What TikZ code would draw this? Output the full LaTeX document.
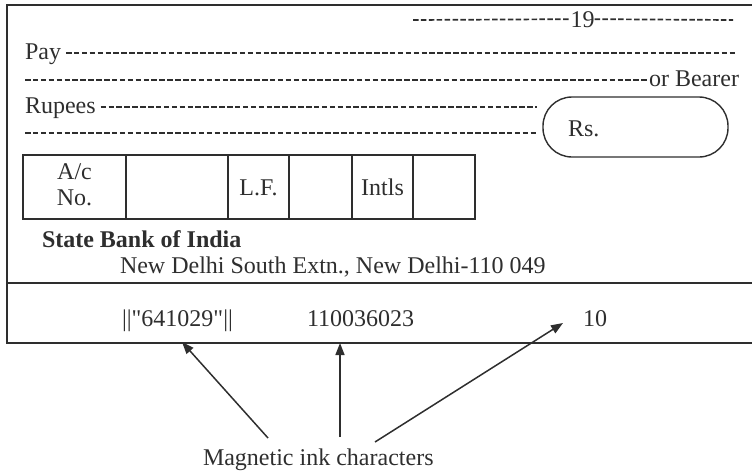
\documentclass[tikz,border=0pt]{standalone}
\usepackage{fontspec}
\setmainfont{Liberation Serif}
\newfontfamily\rawserif{Liberation Serif}
\usetikzlibrary{arrows.meta}
\definecolor{ink}{HTML}{2E2E2E}
\begin{document}
\begin{tikzpicture}[x=1pt,y=-1pt,
  txt/.style={inner sep=0pt,outer sep=0pt,text=ink,font=\fontsize{24}{26}\selectfont},
  fill line/.style={draw=ink,line width=1.7pt,dash pattern=on 5.5pt off 2.4pt},
  frame/.style={draw=ink,line width=1.4pt},
  arr/.style={draw=ink,line width=1.5pt,-{Triangle[length=12pt,width=9pt]}}]
\useasboundingbox (0,0) rectangle (752,474);
% cheque frame
\draw[frame] (752,5) -- (7,5) -- (7,343) -- (752,343);
\draw[frame] (7,283) -- (752,283);
% date line
\node[txt,anchor=base] (yr) at (582.5,27) {19};
\draw[fill line] (413,20) -- (yr.west);
\draw[fill line] (yr.east) -- (733,20);
% pay line
\node[txt,anchor=base west] (pay) at (25,59) {Pay};
\draw[fill line] ([xshift=5pt]pay.east |- 0,53) -- (737,53);
% second line
\node[txt,anchor=base east] (bearer) at (739,86) {or Bearer};
\draw[fill line] (25,80) -- ([xshift=-1pt]bearer.west |- 0,80);
% rupees
\node[txt,anchor=base west] (rupees) at (25,113) {Rupees};
\draw[fill line] ([xshift=5pt]rupees.east |- 0,107) -- (537,107);
\draw[fill line] (25,133) -- (537,133);
% Rs box
\draw[frame,rounded corners=29pt] (543,97) rectangle (728,157);
\node[txt,anchor=base west] (rs) at (568,136) {Rs.};
% table
\draw[frame] (23,155) rectangle (475,219);
\foreach \x in {126,228,289,352,413} \draw[frame] (\x,155) -- (\x,219);
\node[txt,anchor=base] (ac) at (74.5,179) {A/c};
\node[txt,anchor=base] (no) at (74.5,205) {No.};
\node[txt,anchor=base] (lf) at (258.5,195) {L.F.};
\node[txt,anchor=base] (intls) at (382.5,195) {Intls};
% bank
\node[txt,anchor=base west,font=\fontsize{24}{26}\selectfont\bfseries] (sbi) at (42,247) {State Bank of India};
\node[txt,anchor=base west] (addr) at (120,273) {New Delhi South Extn., New Delhi-110 049};
% MICR line
\node[txt,anchor=base,font=\fontsize{24}{26}\rawserif] (chq) at (177.5,326) {||"641029"||};
\node[txt,anchor=base west] (sort) at (307,326) {110036023};
\node[txt,anchor=base west] (code) at (583,326) {10};
% caption and arrows
\node[txt,anchor=base west] (mic) at (203,465) {Magnetic ink characters};
\coordinate (s1) at (268,438);
\coordinate (s2) at (340,437);
\coordinate (s3) at (375,442);
\coordinate (t1) at (182,342);
\coordinate (t2) at (340,343);
\coordinate (t3) at (563,323);
\draw[arr] (s1) -- (t1);
\draw[arr] (s2) -- (t2);
\draw[arr] (s3) -- (t3);
\end{tikzpicture}
\end{document}
